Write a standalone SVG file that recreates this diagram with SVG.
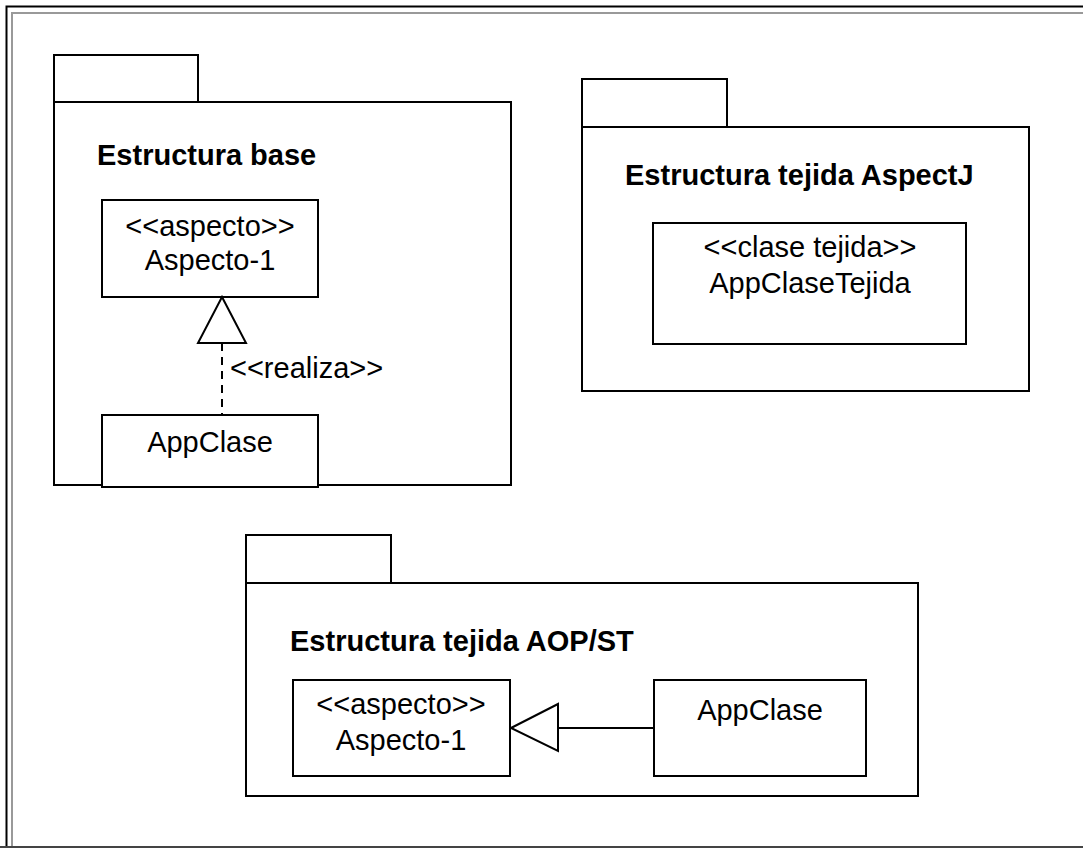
<svg xmlns="http://www.w3.org/2000/svg" width="1083" height="848" viewBox="0 0 1083 848">
<style>
.ln{fill:#fff;stroke:#000;stroke-width:2}
.t{font-family:"Liberation Sans",Arial,sans-serif;font-size:29px;fill:#000}
.b{font-weight:bold}
.m{text-anchor:middle}
</style>
<rect width="1083" height="848" fill="#fff"/>
<g id="frame" fill="none">
<path d="M6.5 848 V6.5 H1083" stroke="#000" stroke-width="2"/>
<path d="M12 848 V13 H1083" stroke="#999" stroke-width="2"/>
<line x1="0" y1="847" x2="1083" y2="847" stroke="#444" stroke-width="2"/>
</g>
<g id="pkg-base">
<rect class="ln" x="54" y="55" width="144" height="47"/>
<rect class="ln" x="54" y="102" width="457" height="383"/>
<text class="t b" x="97" y="165">Estructura base</text>
</g>
<g id="pkg-aspectj">
<rect class="ln" x="582" y="79" width="145" height="48"/>
<rect class="ln" x="582" y="127" width="447" height="264"/>
<text class="t b" x="625" y="185">Estructura tejida AspectJ</text>
</g>
<g id="pkg-aopst">
<rect class="ln" x="246" y="535" width="145" height="48"/>
<rect class="ln" x="246" y="583" width="672" height="213"/>
<text class="t b" x="290" y="651">Estructura tejida AOP/ST</text>
</g>
<g id="aspecto1-base">
<rect class="ln" x="102" y="200" width="216" height="97"/>
<text class="t m" x="210" y="236">&lt;&lt;aspecto&gt;&gt;</text>
<text class="t m" x="210" y="270">Aspecto-1</text>
</g>
<g id="appclase-base">
<rect class="ln" x="102" y="415" width="216" height="72"/>
<text class="t m" x="210" y="452">AppClase</text>
</g>
<g id="appclasetejida">
<rect class="ln" x="653" y="223" width="313" height="121"/>
<text class="t m" x="810" y="257">&lt;&lt;clase tejida&gt;&gt;</text>
<text class="t m" x="810" y="293">AppClaseTejida</text>
</g>
<g id="aspecto1-aop">
<rect class="ln" x="293" y="680" width="217" height="96"/>
<text class="t m" x="401" y="714">&lt;&lt;aspecto&gt;&gt;</text>
<text class="t m" x="401" y="750">Aspecto-1</text>
</g>
<g id="appclase-aop">
<rect class="ln" x="654" y="680" width="212" height="96"/>
<text class="t m" x="760" y="720">AppClase</text>
</g>
<g id="connectors">
<line x1="222" y1="343" x2="222" y2="415" stroke="#000" stroke-width="2" stroke-dasharray="8,6"/>
<polygon points="222,297 198,343 246,343" class="ln"/>
<text class="t" x="230" y="378">&lt;&lt;realiza&gt;&gt;</text>
<line x1="558" y1="728" x2="654" y2="728" stroke="#000" stroke-width="2"/>
<polygon points="511,728 558,704 558,751" class="ln"/>
</g>
</svg>
